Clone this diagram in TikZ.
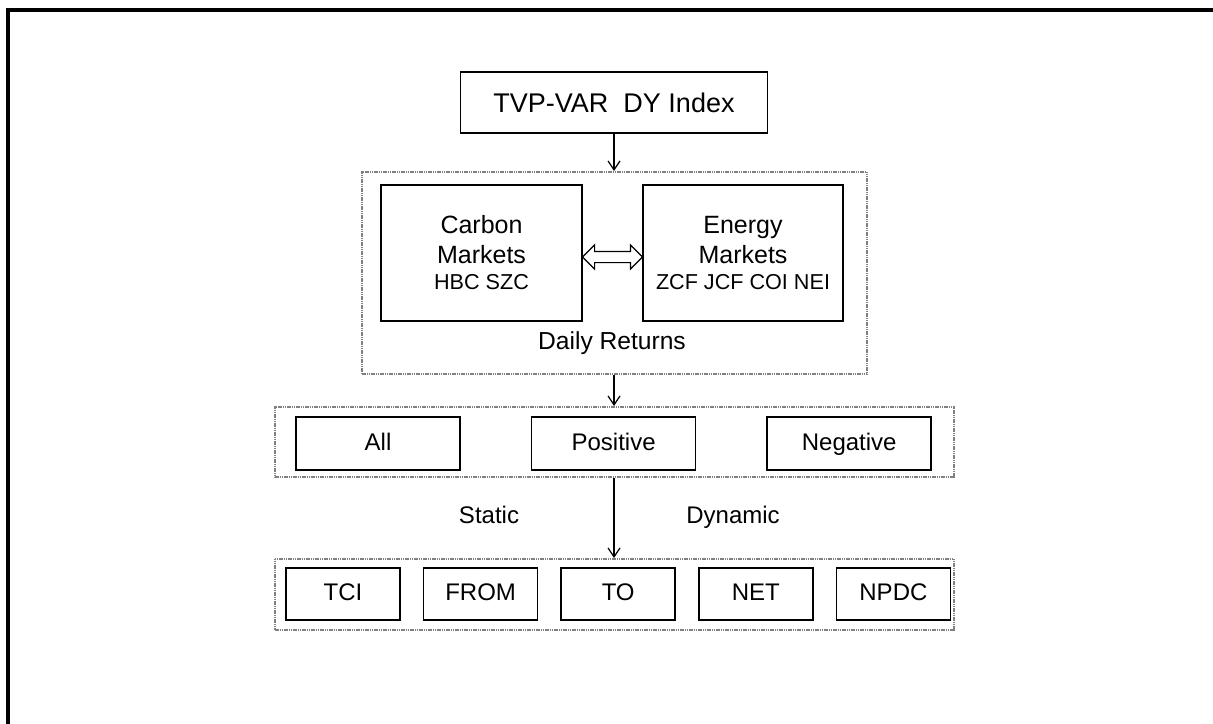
\documentclass[tikz,border=0pt]{standalone}
\usepackage{fontspec}
\setmainfont{Liberation Sans}
\usetikzlibrary{positioning,shapes.arrows,arrows.meta}

\begin{document}
\begin{tikzpicture}[x=0.5pt, y=-0.5pt, node distance = 11pt,
        box/.style   = {draw, line width=0.8pt, inner sep=0pt, align=center},
        frame/.style = {draw=gray, line width=1pt, dash pattern=on 0.6pt off 0.3pt},
        lbl/.style   = {font=\fontsize{12}{14}\selectfont, text height=1.6ex, text depth=0.3ex},
        >={Straight Barb[length=4.5pt,width=6pt]}]
        \useasboundingbox (0,0) rectangle (1213,723);
        \draw[line width=1.6pt] (1220,10) -- (8,10) -- (8,730);

        % Place nodes
        \node[box, minimum width=153.5pt, minimum height=30.5pt,
              font=\fontsize{13.5}{16}\selectfont] (tvp) at (614,102.5) {TVP-VAR\ \ DY Index};
        \node[frame, minimum width=252.5pt, minimum height=101pt] (returns) at (614,273) {};
        \node[box, minimum width=100.5pt, minimum height=68pt,
              font=\fontsize{12.5}{15}\selectfont] (carbon) at (481.5,253)
              {Carbon\\Markets\\[-2pt]{\fontsize{10.8}{12}\selectfont HBC SZC}};
        \node[box, minimum width=100pt, minimum height=68pt,
              font=\fontsize{12.5}{15}\selectfont] (energy) at (743,253)
              {Energy\\Markets\\[-2pt]{\fontsize{10.8}{12}\selectfont ZCF JCF COI NEI}};
        \node[font=\fontsize{12.3}{14}\selectfont] (daily) at (612,343) {Daily Returns};
        \node[double arrow, draw, line width=0.6pt, inner xsep=0pt, inner ysep=2.5pt,
              minimum height=30pt, double arrow head extend=3.25pt] (link) at (612.5,257) {};

        \node[frame, minimum width=339.5pt, minimum height=35pt] (shocks) at (614,442) {};
        \node[box, lbl, minimum width=82pt, minimum height=26.5pt] (all) at (378,443.5) {All};
        \node[box, lbl, minimum width=82pt, minimum height=26.5pt] (pos) [right=35pt of all] {Positive};
        \node[box, lbl, minimum width=82pt, minimum height=26.5pt] (neg) [right=35pt of pos] {Negative};

        \node[lbl] (static)  at (489,517) {Static};
        \node[lbl] (dynamic) at (733,517) {Dynamic};

        \node[frame, minimum width=339.5pt, minimum height=35.5pt] (measures) at (614,594.5) {};
        \node[box, lbl, minimum width=57pt, minimum height=26pt] (tci)  at (343,594) {TCI};
        \node[box, lbl, minimum width=57pt, minimum height=26pt] (from) [right=of tci]  {FROM};
        \node[box, lbl, minimum width=57pt, minimum height=26pt] (to)   [right=of from] {TO};
        \node[box, lbl, minimum width=57pt, minimum height=26pt] (net)  [right=of to]   {NET};
        \node[box, lbl, minimum width=57pt, minimum height=26pt] (npdc) [right=of net]  {NPDC};

        % Draw edges
        \draw[->, line width=0.6pt] (tvp) -- (returns);
        \draw[->, line width=0.6pt] (returns) -- (shocks);
        \draw[->, line width=0.6pt] (shocks) -- (measures);
    \end{tikzpicture}
\end{document}
